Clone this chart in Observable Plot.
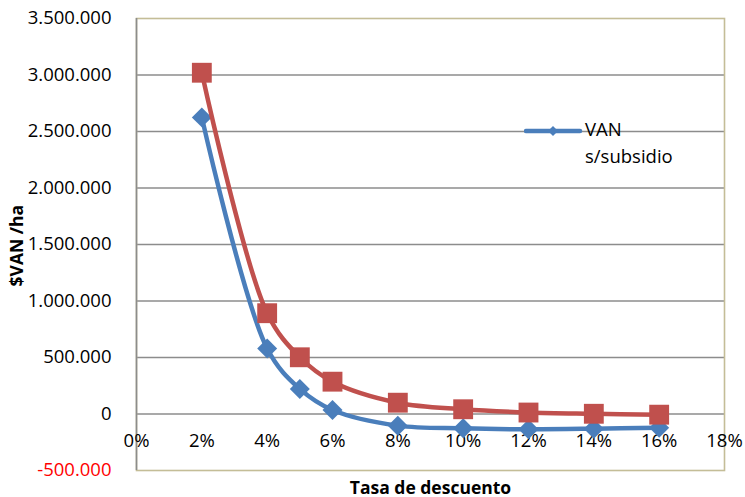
<!DOCTYPE html>
<html><head><meta charset="utf-8">
<script src="https://cdn.jsdelivr.net/npm/d3@7"></script>
<script src="https://cdn.jsdelivr.net/npm/@observablehq/plot@0.6"></script>
<style>
body{margin:0;background:#fff;font-family:"Open Sans",sans-serif;}
#wrap{position:relative;width:745px;height:497px;}
#legend{position:absolute;left:524px;top:115px;font-size:18.5px;line-height:27px;color:#000;}
#legend svg{position:absolute;left:0;top:7px;}
#legend .t{position:absolute;left:61px;top:0;white-space:nowrap;}
</style></head>
<body><div id="wrap"><div id="chart"></div>
<div id="legend"><svg width="60" height="20"><line x1="2" y1="9" x2="56" y2="9" stroke="#4A7EBB" stroke-width="4.5" stroke-linecap="round"/><path d="M29,4 L34,9 L29,14 L24,9 Z" fill="#4A7EBB"/></svg><div class="t">VAN<br>s/subsidio</div></div>
</div>
<script>
const rates = [2, 4, 5, 6, 8, 10, 12, 14, 16];
const vanSinSubsidio = [2625000, 580000, 222000, 35000, -103000, -127000, -135000, -130000, -121000];
const vanConSubsidio = [3020000, 892000, 502000, 286000, 100000, 42000, 13000, 2000, -6000];
const yTicks = [-500000, 0, 500000, 1000000, 1500000, 2000000, 2500000, 3000000, 3500000];
const xTicks = [0, 2, 4, 6, 8, 10, 12, 14, 16, 18];
const seriesNames = ["VAN s/subsidio", "VAN c/subsidio"];

const blue = "#4A7EBB", red = "#C0504D";
const loc = d3.formatLocale({decimal: ",", thousands: ".", grouping: [3], currency: ["$", ""], minus: "-"});
const fmt = loc.format(",.0f");

const sData = rates.map((r, i) => ({rate: r, van: vanSinSubsidio[i], serie: seriesNames[0]}));
const cData = rates.map((r, i) => ({rate: r, van: vanConSubsidio[i], serie: seriesNames[1]}));
const grid = yTicks.filter(d => d > yTicks[0] && d < yTicks[yTicks.length - 1]);

const chart = Plot.plot({
  width: 745, height: 497,
  marginLeft: 136, marginRight: 21, marginTop: 18, marginBottom: 27,
  style: {fontFamily: "'Open Sans', sans-serif", fontSize: "18px", background: "#fff"},
  x: {domain: [0, 18], axis: null},
  y: {domain: [-500000, 3500000], axis: null},
  marks: [
    Plot.ruleY(grid, {stroke: "#8C8C8C", strokeWidth: 1.6}),
    Plot.frame({stroke: "#C4BD97", strokeWidth: 1.6}),
    Plot.ruleX([0], {stroke: "#8C8C8C", strokeWidth: 1.6}),
    Plot.text(yTicks, {y: d => d, frameAnchor: "left", dx: -25, textAnchor: "end", text: d => fmt(d), fill: d => d < 0 ? "#FF0000" : "#000", fontSize: 18.5}),
    Plot.text(xTicks, {x: d => d, y: 0, dy: 27, text: d => d + "%", fill: "#000", fontSize: 18.5}),
    Plot.line(sData, {x: "rate", y: "van", stroke: blue, strokeWidth: 4.5, curve: "catmull-rom"}),
    Plot.dot(sData, {x: "rate", y: "van", symbol: "diamond2", r: 9, fill: blue, stroke: "none"}),
    Plot.line(cData, {x: "rate", y: "van", stroke: red, strokeWidth: 4.5, curve: "catmull-rom"}),
    Plot.dot(cData, {x: "rate", y: "van", symbol: "square", r: 11.2, fill: red, stroke: "none"}),
    Plot.text(["Tasa de descuento"], {frameAnchor: "bottom", dy: 23, text: d => d, fontWeight: "bold", fontSize: 17.5, fill: "#000"}),
    Plot.text(["$VAN /ha"], {frameAnchor: "left", dx: -119, dy: 42, rotate: -90, text: d => d, fontWeight: "bold", fontSize: 17.5, fill: "#000"})
  ]
});
document.getElementById("chart").appendChild(chart);
</script></body></html>
